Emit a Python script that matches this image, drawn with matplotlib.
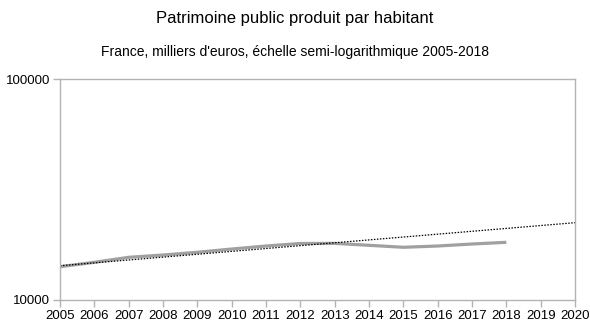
import numpy as np
import matplotlib.pyplot as plt

plt.rcParams['font.family'] = ['Liberation Sans', 'DejaVu Sans']

# Patrimoine public produit par habitant (euros)
annees = [2005, 2006, 2007, 2008, 2009, 2010, 2011, 2012,
          2013, 2014, 2015, 2016, 2017, 2018]
patrimoine = [14150, 14810, 15600, 15980, 16440, 17010, 17550, 18020,
              18040, 17680, 17320, 17550, 17920, 18240]

# Tendance exponentielle (droite en semi-log)
tendance_annees = [2005, 2020]
tendance_valeurs = [14290, 22380]

annees_ticks = list(range(2005, 2021))

fig = plt.figure(figsize=(5.9, 3.24), dpi=100)
ax = fig.add_axes([60 / 590, 24 / 324, 515 / 590, 221 / 324])

ax.plot(annees, patrimoine, color='#a0a0a0', linewidth=2.3, solid_capstyle='butt')
ax.plot(tendance_annees, tendance_valeurs, color='black', linewidth=0.9,
        linestyle=(0, (1.2, 1.2)))

ax.set_yscale('log')
ax.set_ylim(10000, 100000)
ax.set_xlim(2005, 2020)
ax.set_yticks([10000, 100000])
ax.set_yticklabels(['10000', '100000'])
ax.yaxis.set_minor_locator(plt.NullLocator())
ax.set_xticks(annees_ticks)
ax.set_xticklabels([str(a) for a in annees_ticks])

for s in ax.spines.values():
    s.set_color('#b3b3b3')
    s.set_linewidth(1.0)
ax.tick_params(axis='both', colors='#b3b3b3', labelcolor='black',
               labelsize=9.5, length=5, width=1.0)
ax.tick_params(axis='x', pad=2.5)
ax.tick_params(axis='y', pad=2)

fig.text(0.5, 1 - 18 / 324, 'Patrimoine public produit par habitant',
         ha='center', va='center', fontsize=12)
fig.text(0.5, 1 - 52 / 324, "France, milliers d'euros, échelle semi-logarithmique 2005-2018",
         ha='center', va='center', fontsize=10)

fig.savefig('out.png', dpi=100)
